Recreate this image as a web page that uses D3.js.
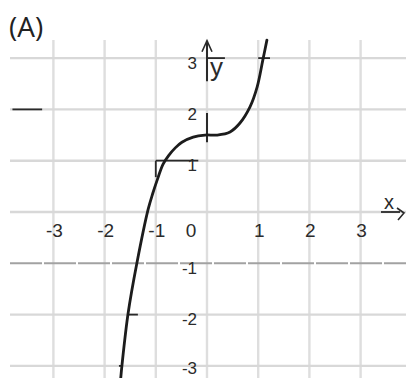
<!DOCTYPE html>
<html>
<head>
<meta charset="utf-8">
<script src="https://cdn.jsdelivr.net/npm/d3@7"></script>
<style>
  html, body { margin: 0; padding: 0; background: #fff; }
  svg { display: block; }
</style>
</head>
<body>
<svg id="chart" width="406" height="378"></svg>
<script>
// ---- data ----
const panelLabel = "(A)";
const gridValues = [-3, -2, -1, 0, 1, 2, 3];
const xTickValues = [-3, -2, -1, 1, 2, 3];
const xTickLabels = ["-3", "-2", "-1", "1", "2", "3"];
const yTickValues = [3, 2, 1, -1, -2, -3];
const yTickLabels = ["3", "2", "1", "-1", "-2", "-3"];
const originLabel = "0";
const xAxisName = "x";
const yAxisName = "y";

// curve points (x, y)
const curveX = [-1.685, -1.66, -1.54, -1.37, -1.15, -1.06, -0.96, -0.86, -0.75, -0.62, -0.49, -0.27, -0.04, 0.20, 0.45, 0.64, 0.84, 0.98, 1.09, 1.17];
const curveY = [-3.24, -2.98, -1.97, -1.00, 0.05, 0.36, 0.66, 0.93, 1.10, 1.25, 1.36, 1.46, 1.50, 1.50, 1.56, 1.73, 2.05, 2.44, 2.96, 3.35];

// short hand-drawn marks (x1, y1, x2, y2) in data units
const markX1 = [-1.00, -1.00, 0.00, 1.00, -1.54, -1.72, -3.80];
const markY1 = [1.00, 1.00, 3.00, 3.00, -2.00, -3.00, 2.00];
const markX2 = [-0.17, -1.00, 0.35, 1.23, -1.35, -1.64, -3.22];
const markY2 = [1.00, 0.68, 3.00, 3.00, -2.00, -3.00, 2.00];

// dark parts of the drawn y axis (from y to y)
const yAxisFrom = [3.30, 1.93];
const yAxisTo = [2.55, 1.36];

// ---- drawing ----
const svg = d3.select("#chart");
const W = 406, H = 378;
const x = d3.scaleLinear().domain([-4, 4]).range([2.2, 411.8]);
const y = d3.scaleLinear().domain([-4, 4]).range([417.2, 6.8]);

svg.append("rect").attr("width", W).attr("height", H).attr("fill", "#fff");

const grid = svg.append("g");
// vertical grid lines
grid.selectAll("line.v").data(gridValues).join("line")
  .attr("class", "v")
  .attr("x1", d => x(d)).attr("x2", d => x(d))
  .attr("y1", 40).attr("y2", H)
  .attr("stroke", "#dedede").attr("stroke-width", 2.4);
// horizontal grid lines
grid.selectAll("line.h").data(gridValues).join("line")
  .attr("class", "h")
  .attr("x1", 10).attr("x2", W)
  .attr("y1", d => y(d)).attr("y2", d => y(d))
  .attr("stroke", d => d === -1 ? "#a2a2a2" : "#d8d8d8")
  .attr("stroke-width", d => d === -1 ? 2 : 2.4)
  .attr("stroke-dasharray", d => d === -1 ? "32,2" : null);

// labels
const lab = svg.append("g")
  .attr("font-family", "'Liberation Sans', Arial, sans-serif")
  .attr("fill", "#2b2b2b");

lab.selectAll("text.xt").data(xTickValues).join("text")
  .attr("class", "xt")
  .attr("x", d => x(d) + 1)
  .attr("y", 237)
  .attr("text-anchor", "middle")
  .attr("font-size", 19)
  .text((d, i) => xTickLabels[i]);

lab.append("text")
  .attr("x", x(0) - 16).attr("y", 237)
  .attr("text-anchor", "middle")
  .attr("font-size", 19)
  .text(originLabel);

lab.selectAll("text.yt").data(yTickValues).join("text")
  .attr("class", "yt")
  .attr("x", x(0) - 10)
  .attr("y", d => Math.min(y(d) + 10.5, H - 4.5))
  .attr("text-anchor", "end")
  .attr("font-size", 17)
  .text((d, i) => yTickLabels[i]);

// axis names
lab.append("text")
  .attr("x", x(0) + 3).attr("y", 76)
  .attr("font-size", 26)
  .text(yAxisName);
lab.append("text")
  .attr("x", 384).attr("y", 209)
  .attr("font-size", 20)
  .text(xAxisName);

// panel label
svg.append("text")
  .attr("x", 9).attr("y", 37)
  .attr("font-family", "'Open Sans', sans-serif")
  .attr("font-size", 28)
  .attr("font-weight", 500)
  .attr("fill", "#222")
  .text(panelLabel);

// dark y axis pieces
const ink = svg.append("g").attr("stroke", "#2a2a2a").attr("fill", "none");
ink.selectAll("line.ya").data(yAxisFrom).join("line")
  .attr("class", "ya")
  .attr("x1", x(0)).attr("x2", x(0))
  .attr("y1", d => y(d)).attr("y2", (d, i) => y(yAxisTo[i]))
  .attr("stroke-width", 2);
// y arrow head
ink.append("path")
  .attr("d", `M${x(0) - 5},${y(3.30) + 9} L${x(0)},${y(3.30) - 2} L${x(0) + 5},${y(3.30) + 9}`)
  .attr("stroke-width", 1.6);
// x axis underline and arrow
ink.append("line")
  .attr("x1", 381).attr("x2", 400)
  .attr("y1", y(0)).attr("y2", y(0))
  .attr("stroke-width", 1.8);
ink.append("path")
  .attr("d", `M397,${y(0) - 4} L404,${y(0) + 1} L398,${y(0) + 8}`)
  .attr("stroke-width", 1.6);

// hand marks
ink.selectAll("line.mk").data(markX1).join("line")
  .attr("class", "mk")
  .attr("x1", d => x(d)).attr("y1", (d, i) => y(markY1[i]))
  .attr("x2", (d, i) => x(markX2[i])).attr("y2", (d, i) => y(markY2[i]))
  .attr("stroke-width", 1.8);

// curve
const pts = curveX.map((d, i) => [d, curveY[i]]);
const line = d3.line().x(d => x(d[0])).y(d => y(d[1])).curve(d3.curveCatmullRom.alpha(0.5));
svg.append("path")
  .datum(pts)
  .attr("d", line)
  .attr("fill", "none")
  .attr("stroke", "#1c1c1c")
  .attr("stroke-width", 2.8)
  .attr("stroke-linecap", "round");
</script>
</body>
</html>
